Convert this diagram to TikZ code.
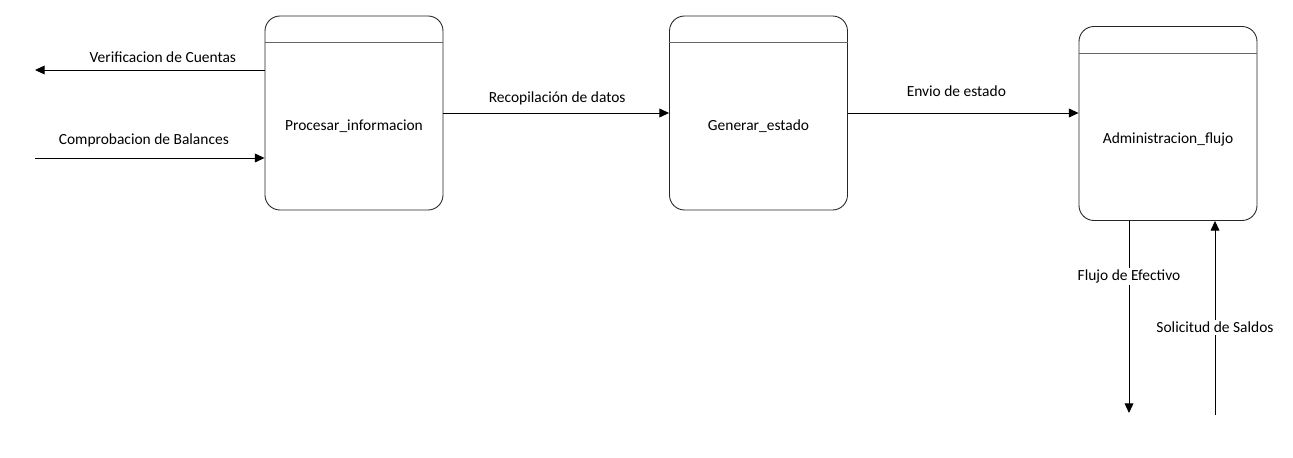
\documentclass[tikz,border=0pt]{standalone}
\usepackage{fontspec}
\setmainfont{Carlito}
\usepackage{tikz}
\usetikzlibrary{
    arrows.meta,
    calc,
    positioning
}
\tikzset{procbox/.style={draw=black!85, line width=0.5pt, rounded corners=0.3cm, minimum width=3.56cm, minimum height=3.88cm, inner sep=0pt},
    headln/.style={draw=black!60, line width=0.5pt},
    flow/.style={->, line width=0.5pt},
    flowlbl/.style={font=\fontsize{8.8}{10}\selectfont, inner sep=1pt}}

\begin{document}
\begin{tikzpicture}[>={Triangle[length=5.5pt, width=5pt]}]
                        \useasboundingbox (0, 0) rectangle (25.86, 9.14);
                        \node[procbox] (proc) at (7.08, 6.88) {};
                        \node[procbox] (gen) at (15.17, 6.88) {};
                        \node[procbox] (adm) at (23.36, 6.67) {};
                        \draw[headln] ($(proc.north west) + (0, -0.54)$) -- ($(proc.north east) + (0, -0.54)$);
                        \draw[headln] ($(gen.north west) + (0, -0.54)$) -- ($(gen.north east) + (0, -0.54)$);
                        \draw[headln] ($(adm.north west) + (0, -0.54)$) -- ($(adm.north east) + (0, -0.54)$);
                        \node[flowlbl] (proctxt) at ($(proc.center) + (0, -0.27)$) {Procesar\_informacion};
                        \node[flowlbl] (gentxt) at ($(gen.center) + (0, -0.27)$) {Generar\_estado};
                        \node[flowlbl] (admtxt) at ($(adm.center) + (0, -0.31)$) {Administracion\_flujo};

                        \coordinate (vcend) at (0.7, 7.74);
                        \coordinate (cbstart) at (0.7, 5.98);
                        \coordinate (feend) at (22.58, 0.88);
                        \coordinate (ssstart) at (24.3, 0.84);
                        \draw[flow] (proc.west |- vcend) -- node[flowlbl, pos=0.443, above=0.1cm] (vclbl) {Verificacion de Cuentas} (vcend);
                        \draw[flow] (cbstart) -- node[flowlbl, pos=0.474, above=0.18cm] (cblbl) {Comprobacion de Balances} (proc.west |- cbstart);
                        \draw[flow] (proc.east) -- node[flowlbl, pos=0.504, above=0.12cm] (rdlbl) {Recopilación de datos} (gen.west);
                        \draw[flow] (gen.east) -- node[flowlbl, pos=0.47, above=0.28cm] (eelbl) {Envio de estado} (gen.east -| adm.west);
                        \draw[flow] (adm.south -| feend) -- node[flowlbl, pos=0.29, fill=white] (felbl) {Flujo de Efectivo} (feend);
                        \draw[flow] (ssstart) -- node[flowlbl, pos=0.45, fill=white] (sslbl) {Solicitud de Saldos} (adm.south -| ssstart);
                    \end{tikzpicture}
\end{document}
